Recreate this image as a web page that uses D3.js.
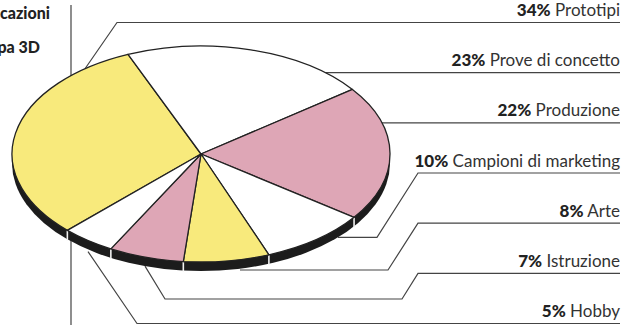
<!DOCTYPE html>
<html>
<head>
<meta charset="utf-8">
<script src="https://cdn.jsdelivr.net/npm/d3@7"></script>
<style>
  body { margin: 0; background: #fff; }
  svg { display: block; }
  text { font-family: Lato, "Open Sans", sans-serif; }
</style>
</head>
<body>
<svg id="chart"></svg>
<script>
// data
const categories = ["Prototipi", "Prove di concetto", "Produzione", "Campioni di marketing", "Arte", "Istruzione", "Hobby"];
const percents = [34, 23, 22, 10, 8, 7, 5];
const sliceColors = ["#f8ea7c", "#ffffff", "#dea6b6", "#ffffff", "#f8ea7c", "#dea6b6", "#ffffff"];
const titleLines = ["Principali applicazioni", "della stampa 3D"];

const width = 630, height = 325;
const svg = d3.select("#chart").attr("width", width).attr("height", height);

// ellipse geometry of the tilted pie
const cx = 201, cy = 154, rx = 189, ry = 108, depth = 9;
const k = ry / rx;
const toRad = d => d * Math.PI / 180;

const pie = d3.pie().sort(null).startAngle(toRad(225)).endAngle(toRad(585));
const arcs = pie(percents);
const arc = d3.arc().innerRadius(0).outerRadius(rx);
const edge = a => [cx + rx * Math.sin(a), cy - ry * Math.cos(a)];

// helpers on the ellipse
const topY = x => cy - ry * Math.sqrt(1 - ((x - cx) / rx) ** 2);
const baseY = x => cy + ry * Math.sqrt(1 - ((x - cx) / rx) ** 2) + depth;
const rightX = y => cx + rx * Math.sqrt(1 - ((y - cy) / ry) ** 2);

// label rows
const rowY = d3.scaleLinear().domain([0, categories.length - 1]).range([16, 317]);
const ruleY = i => rowY(i) + 6.5;
const labelX = 620;

// vertical rule on the left
svg.append("line")
  .attr("x1", 71).attr("x2", 71)
  .attr("y1", 5).attr("y2", height)
  .attr("stroke", "#444").attr("stroke-width", 1.2);

// leader lines (drawn under the pie)
const leaderPaths = [
  [[labelX, ruleY(0)], [117, ruleY(0)], [85, topY(85)]],
  [[labelX, ruleY(1)], [rightX(ruleY(1)), ruleY(1)]],
  [[labelX, ruleY(2)], [rightX(ruleY(2)), ruleY(2)]],
  [[labelX, ruleY(3)], [418, ruleY(3)], [377, baseY(338)], [338, baseY(338)]],
  [[labelX, ruleY(4)], [418, ruleY(4)], [388, 270], [240, 270]],
  [[labelX, ruleY(5)], [418, ruleY(5)], [402, 299], [165, 299], [145, baseY(145)]],
  [[labelX, ruleY(6)], [137, ruleY(6)], [88, baseY(88) + 2]]
];

svg.append("g").selectAll("path")
  .data(leaderPaths)
  .enter()
  .append("path")
  .attr("d", d3.line())
  .attr("fill", "none")
  .attr("stroke", "#444")
  .attr("stroke-width", 1.2);

// side of the pie
const pieG = svg.append("g");
pieG.append("ellipse")
  .attr("cx", cx).attr("cy", cy + depth)
  .attr("rx", rx).attr("ry", ry)
  .attr("fill", "#1c1c1c");

// white seams on the side at slice boundaries
const seams = arcs.map(d => d.startAngle).filter(a => -Math.cos(a) > 0.05);
pieG.selectAll(".seam")
  .data(seams)
  .enter()
  .append("line")
  .attr("class", "seam")
  .attr("x1", a => edge(a)[0]).attr("x2", a => edge(a)[0])
  .attr("y1", a => edge(a)[1]).attr("y2", a => edge(a)[1] + depth + 1)
  .attr("stroke", "#f2f2f2")
  .attr("stroke-width", 1.6);

// top face
const face = pieG.append("g")
  .attr("transform", `translate(${cx},${cy}) scale(1,${k})`);

face.selectAll("path")
  .data(arcs)
  .enter()
  .append("path")
  .attr("d", arc)
  .attr("fill", (d, i) => sliceColors[i])
  .attr("stroke", "#222")
  .attr("stroke-width", 1.3)
  .attr("stroke-linejoin", "round")
  .attr("vector-effect", "non-scaling-stroke");

// labels
const labels = svg.append("g").selectAll("text")
  .data(categories)
  .enter()
  .append("text")
  .attr("x", labelX)
  .attr("y", (d, i) => rowY(i))
  .attr("text-anchor", "end")
  .attr("font-size", 17)
  .attr("fill", "#222");

labels.append("tspan")
  .attr("font-weight", 900)
  .text((d, i) => percents[i] + "%");
labels.append("tspan")
  .attr("fill", "#333")
  .text(d => " " + d);

// title (cut by the left edge, as in the original)
svg.append("text")
  .attr("x", 50).attr("y", 19)
  .attr("text-anchor", "end")
  .attr("font-size", 16).attr("font-weight", 900)
  .attr("fill", "#222")
  .text(titleLines[0]);
svg.append("text")
  .attr("x", 40).attr("y", 53)
  .attr("text-anchor", "end")
  .attr("font-size", 16).attr("font-weight", 900)
  .attr("fill", "#222")
  .text(titleLines[1]);
</script>
</body>
</html>
